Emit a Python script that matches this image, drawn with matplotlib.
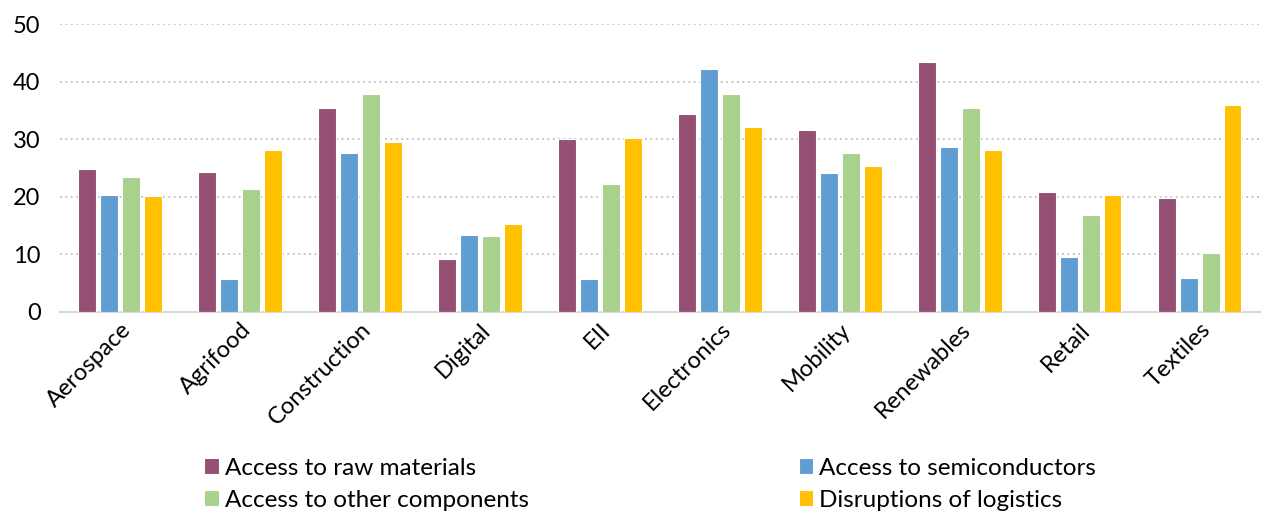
import numpy as np
import matplotlib.pyplot as plt

# sectors and survey shares (%)
sectors = ["Aerospace", "Agrifood", "Construction", "Digital", "EII",
           "Electronics", "Mobility", "Renewables", "Retail", "Textiles"]
raw_materials = [24.8, 24.4, 35.5, 9.2, 30.0, 34.4, 31.7, 43.4, 20.9, 19.8]
semiconductors = [20.4, 5.7, 27.7, 13.4, 5.7, 42.2, 24.1, 28.6, 9.5, 5.9]
other_components = [23.4, 21.3, 37.8, 13.2, 22.3, 37.8, 27.6, 35.4, 16.8, 10.2]
logistics = [20.1, 28.2, 29.5, 15.2, 30.3, 32.2, 25.3, 28.1, 20.4, 35.9]

labels = ["Access to raw materials", "Access to semiconductors",
          "Access to other components", "Disruptions of logistics"]
colors = ["#954F72", "#5F9DD3", "#A9D18E", "#FFC000"]

plt.rcParams["font.family"] = ["Lato", "DejaVu Sans"]

fig = plt.figure(figsize=(12.63, 5.14), dpi=100)
ax = fig.add_axes([0.0475, 0.393, 0.95, 0.56])

x = np.arange(len(sectors))
step = 0.183
width = 0.145
series = [raw_materials, semiconductors, other_components, logistics]
bars = []
for i, vals in enumerate(series):
    b = ax.bar(x + (i - 1.5) * step, vals, width, color=colors[i],
               edgecolor="white", linewidth=0.8, label=labels[i], zorder=3)
    bars.append(b)

ax.set_xlim(-0.5, len(sectors) - 0.5)
ax.set_ylim(0, 50)
ax.set_yticks(range(0, 51, 10))
ax.yaxis.grid(True, linestyle=(0, (1, 2)), color="#BFBFBF", linewidth=1.3)
ax.set_axisbelow(True)
for s in ["top", "right", "left"]:
    ax.spines[s].set_visible(False)
ax.spines["bottom"].set_color("#D9D9D9")
ax.spines["bottom"].set_linewidth(1.5)
ax.tick_params(axis="y", length=0, labelsize=17, pad=14)
ax.tick_params(axis="x", length=0, labelsize=17, pad=5)
ax.set_xticks(x)
ax.set_xticklabels(sectors, rotation=45, ha="right", rotation_mode="anchor")

# legend fills row by row in the reference
order = [0, 2, 1, 3]
fig.legend(handles=[bars[i] for i in order], labels=[labels[i] for i in order],
           ncol=2, loc="center left", bbox_to_anchor=(0.1445, 0.058),
           frameon=False, fontsize=17.5,
           handlelength=0.6, handleheight=0.6, handletextpad=0.25,
           columnspacing=11.1, labelspacing=0.45)

fig.savefig("out.png", dpi=100)
